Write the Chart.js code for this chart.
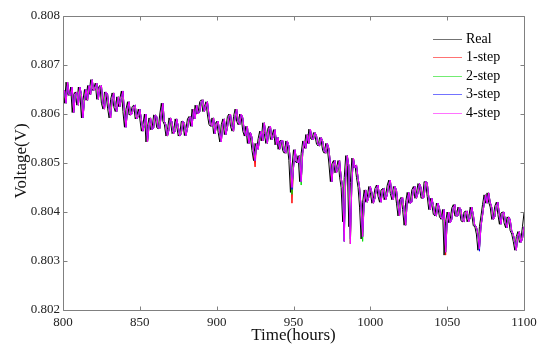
<!DOCTYPE html>
<html>
<head>
<meta charset="utf-8">
<script src="https://cdn.jsdelivr.net/npm/chart.js@4.4.1/dist/chart.umd.min.js"></script>
<style>
  html, body { margin: 0; padding: 0; background: #ffffff; }
  #wrap { width: 550px; height: 353px; }
</style>
</head>
<body>
<div id="wrap"><canvas id="c" width="550" height="353"></canvas></div>
<script>
// hourly samples from 800 h to 1100 h
const startHour = 800;
const stepHours = 1;

const seriesNames = ['Real', '1-step', '2-step', '3-step', '4-step'];

const real = [
.80648,.80622,.80665,.80640,.80638,.80655,.80603,.80640,.80645,.80618,
.80655,.80640,.80592,.80628,.80650,.80628,.80658,.80640,.80670,.80648,
.80652,.80663,.80630,.80655,.80658,.80622,.80610,.80645,.80640,.80612,
.80592,.80630,.80643,.80615,.80605,.80635,.80615,.80632,.80647,.80605,
.80573,.80610,.80625,.80598,.80600,.80615,.80618,.80590,.80595,.80610,
.80590,.80565,.80578,.80600,.80543,.80575,.80592,.80568,.80572,.80598,
.80595,.80572,.80570,.80600,.80622,.80585,.80578,.80555,.80568,.80592,
.80583,.80560,.80565,.80590,.80575,.80555,.80560,.80585,.80582,.80556,
.80570,.80590,.80595,.80575,.80610,.80590,.80618,.80600,.80605,.80625,
.80629,.80605,.80615,.80625,.80598,.80578,.80575,.80592,.80560,.80580,
.80585,.80562,.80543,.80578,.80590,.80558,.80572,.80595,.80600,.80575,
.80565,.80595,.80610,.80585,.80578,.80600,.80592,.80565,.80555,.80575,
.80540,.80562,.80552,.80525,.80505,.80540,.80528,.80550,.80565,.80545,
.80582,.80560,.80540,.80568,.80575,.80548,.80555,.80568,.80537,.80552,
.80528,.80545,.80546,.80525,.80520,.80545,.80535,.80505,.80440,.80490,
.80527,.80505,.80500,.80515,.80462,.80520,.80545,.80530,.80558,.80540,
.80569,.80550,.80548,.80562,.80555,.80538,.80535,.80552,.80545,.80525,
.80520,.80540,.80530,.80500,.80462,.80498,.80505,.80480,.80490,.80505,
.80471,.80450,.80380,.80470,.80515,.80495,.80370,.80460,.80510,.80490,
.80496,.80470,.80450,.80410,.80345,.80420,.80445,.80420,.80430,.80452,
.80440,.80418,.80428,.80448,.80455,.80432,.80420,.80445,.80448,.80425,
.80435,.80455,.80465,.80438,.80425,.80452,.80445,.80418,.80392,.80425,
.80430,.80405,.80373,.80420,.80440,.80418,.80420,.80445,.80452,.80428,
.80438,.80458,.80450,.80428,.80430,.80462,.80460,.80432,.80405,.80428,
.80415,.80395,.80392,.80418,.80408,.80390,.80385,.80405,.80312,.80380,
.80400,.80378,.80385,.80408,.80415,.80392,.80392,.80410,.80405,.80382,
.80380,.80400,.80402,.80380,.80388,.80410,.80395,.80372,.80370,.80355,
.80322,.80370,.80392,.80415,.80435,.80418,.80439,.80420,.80410,.80385,
.80390,.80412,.80420,.80395,.80375,.80398,.80400,.80378,.80368,.80390,
.80385,.80362,.80355,.80340,.80322,.80350,.80360,.80338,.80345,.80370,
.80398
];

const step1 = [
.80640,.80648,.80622,.80665,.80640,.80638,.80655,.80603,.80640,.80645,
.80618,.80655,.80640,.80592,.80628,.80650,.80628,.80658,.80640,.80670,
.80648,.80652,.80663,.80630,.80655,.80658,.80622,.80610,.80645,.80640,
.80612,.80592,.80630,.80643,.80615,.80605,.80635,.80615,.80632,.80647,
.80605,.80573,.80610,.80625,.80598,.80600,.80615,.80618,.80590,.80595,
.80610,.80590,.80565,.80578,.80600,.80543,.80575,.80592,.80568,.80572,
.80598,.80595,.80572,.80570,.80600,.80622,.80585,.80578,.80555,.80568,
.80592,.80583,.80560,.80565,.80590,.80575,.80555,.80560,.80585,.80582,
.80556,.80570,.80590,.80595,.80575,.80610,.80590,.80618,.80600,.80605,
.80625,.80629,.80605,.80615,.80625,.80598,.80578,.80575,.80592,.80560,
.80580,.80585,.80562,.80543,.80578,.80590,.80558,.80572,.80595,.80600,
.80575,.80565,.80595,.80610,.80585,.80578,.80600,.80592,.80565,.80555,
.80575,.80540,.80562,.80552,.80525,.80492,.80540,.80528,.80550,.80565,
.80545,.80582,.80560,.80540,.80568,.80575,.80548,.80555,.80568,.80537,
.80552,.80528,.80545,.80546,.80525,.80520,.80545,.80535,.80505,.80418,
.80490,.80527,.80505,.80500,.80515,.80462,.80520,.80545,.80530,.80558,
.80540,.80569,.80550,.80548,.80562,.80555,.80538,.80535,.80552,.80545,
.80525,.80520,.80540,.80530,.80500,.80462,.80498,.80505,.80480,.80490,
.80505,.80471,.80450,.80360,.80470,.80515,.80495,.80335,.80460,.80510,
.80490,.80496,.80470,.80450,.80410,.80350,.80420,.80445,.80420,.80430,
.80452,.80440,.80418,.80428,.80448,.80455,.80432,.80420,.80445,.80448,
.80425,.80435,.80455,.80465,.80438,.80425,.80452,.80445,.80418,.80392,
.80425,.80430,.80405,.80373,.80420,.80440,.80418,.80420,.80445,.80452,
.80428,.80438,.80458,.80450,.80428,.80430,.80462,.80460,.80432,.80405,
.80428,.80415,.80395,.80392,.80418,.80408,.80390,.80385,.80405,.80312,
.80380,.80400,.80378,.80385,.80408,.80415,.80392,.80392,.80410,.80405,
.80382,.80380,.80400,.80402,.80380,.80388,.80410,.80395,.80372,.80370,
.80355,.80325,.80370,.80392,.80415,.80435,.80418,.80439,.80420,.80410,
.80385,.80390,.80412,.80420,.80395,.80375,.80398,.80400,.80378,.80368,
.80390,.80385,.80362,.80355,.80340,.80322,.80350,.80360,.80338,.80345,
.80370
];

const step2 = [
.80640,.80648,.80622,.80665,.80640,.80638,.80655,.80603,.80640,.80645,
.80618,.80655,.80640,.80592,.80628,.80650,.80628,.80658,.80640,.80670,
.80648,.80652,.80663,.80630,.80655,.80658,.80622,.80610,.80645,.80640,
.80612,.80592,.80630,.80643,.80615,.80605,.80635,.80615,.80632,.80647,
.80605,.80573,.80610,.80625,.80598,.80600,.80615,.80618,.80590,.80595,
.80610,.80590,.80565,.80578,.80600,.80543,.80575,.80592,.80568,.80572,
.80598,.80595,.80572,.80570,.80600,.80622,.80585,.80578,.80555,.80568,
.80592,.80583,.80560,.80565,.80590,.80575,.80555,.80560,.80585,.80582,
.80556,.80570,.80590,.80595,.80575,.80610,.80590,.80618,.80600,.80605,
.80625,.80629,.80605,.80615,.80625,.80598,.80578,.80575,.80592,.80560,
.80580,.80585,.80562,.80543,.80578,.80590,.80558,.80572,.80595,.80600,
.80575,.80565,.80595,.80610,.80585,.80578,.80600,.80592,.80565,.80555,
.80575,.80540,.80562,.80552,.80525,.80505,.80540,.80528,.80550,.80565,
.80545,.80582,.80560,.80540,.80568,.80575,.80548,.80555,.80568,.80537,
.80552,.80528,.80545,.80546,.80525,.80520,.80545,.80535,.80505,.80436,
.80490,.80527,.80505,.80500,.80515,.80455,.80520,.80545,.80530,.80558,
.80540,.80569,.80550,.80548,.80562,.80555,.80538,.80535,.80552,.80545,
.80525,.80520,.80540,.80530,.80500,.80462,.80498,.80505,.80480,.80490,
.80505,.80471,.80450,.80340,.80470,.80515,.80495,.80335,.80460,.80510,
.80490,.80496,.80470,.80450,.80410,.80340,.80420,.80445,.80420,.80430,
.80452,.80440,.80418,.80428,.80448,.80455,.80432,.80420,.80445,.80448,
.80425,.80435,.80455,.80465,.80438,.80425,.80452,.80445,.80418,.80392,
.80425,.80430,.80405,.80373,.80420,.80440,.80418,.80420,.80445,.80452,
.80428,.80438,.80458,.80450,.80428,.80430,.80462,.80460,.80432,.80405,
.80428,.80415,.80395,.80392,.80418,.80408,.80390,.80385,.80405,.80318,
.80380,.80400,.80378,.80385,.80408,.80415,.80392,.80392,.80410,.80405,
.80382,.80380,.80400,.80402,.80380,.80388,.80410,.80395,.80372,.80370,
.80355,.80325,.80370,.80392,.80415,.80435,.80418,.80439,.80420,.80410,
.80385,.80390,.80412,.80420,.80395,.80375,.80398,.80400,.80378,.80368,
.80390,.80385,.80362,.80355,.80340,.80322,.80350,.80360,.80338,.80345,
.80370
];

const step3 = [
.80640,.80648,.80622,.80665,.80640,.80638,.80655,.80603,.80640,.80645,
.80618,.80655,.80640,.80592,.80628,.80650,.80628,.80658,.80640,.80670,
.80648,.80652,.80663,.80630,.80655,.80658,.80622,.80610,.80645,.80640,
.80612,.80592,.80630,.80643,.80615,.80605,.80635,.80615,.80632,.80647,
.80605,.80573,.80610,.80625,.80598,.80600,.80615,.80618,.80590,.80595,
.80610,.80590,.80565,.80578,.80600,.80543,.80575,.80592,.80568,.80572,
.80598,.80595,.80572,.80570,.80600,.80622,.80585,.80578,.80555,.80568,
.80592,.80583,.80560,.80565,.80590,.80575,.80555,.80560,.80585,.80582,
.80556,.80570,.80590,.80595,.80575,.80610,.80590,.80618,.80600,.80605,
.80625,.80629,.80605,.80615,.80625,.80598,.80578,.80575,.80592,.80560,
.80580,.80585,.80562,.80543,.80578,.80590,.80558,.80572,.80595,.80600,
.80575,.80565,.80595,.80610,.80585,.80578,.80600,.80592,.80565,.80555,
.80575,.80540,.80562,.80552,.80525,.80505,.80540,.80528,.80550,.80565,
.80545,.80582,.80560,.80540,.80568,.80575,.80548,.80555,.80568,.80537,
.80552,.80528,.80545,.80546,.80525,.80520,.80545,.80535,.80505,.80446,
.80490,.80527,.80505,.80500,.80515,.80462,.80520,.80545,.80530,.80558,
.80540,.80569,.80550,.80548,.80562,.80555,.80538,.80535,.80552,.80545,
.80525,.80520,.80540,.80530,.80500,.80462,.80498,.80505,.80480,.80490,
.80505,.80471,.80450,.80340,.80470,.80515,.80495,.80345,.80460,.80510,
.80490,.80496,.80470,.80450,.80410,.80350,.80420,.80445,.80420,.80430,
.80452,.80440,.80418,.80428,.80448,.80455,.80432,.80420,.80445,.80448,
.80425,.80435,.80455,.80465,.80438,.80425,.80452,.80445,.80418,.80392,
.80425,.80430,.80405,.80373,.80420,.80440,.80418,.80420,.80445,.80452,
.80428,.80438,.80458,.80450,.80428,.80430,.80462,.80460,.80432,.80405,
.80428,.80415,.80395,.80392,.80418,.80408,.80390,.80385,.80405,.80318,
.80380,.80400,.80378,.80385,.80408,.80415,.80392,.80392,.80410,.80405,
.80382,.80380,.80400,.80402,.80380,.80388,.80410,.80395,.80372,.80370,
.80355,.80320,.80370,.80392,.80415,.80435,.80418,.80439,.80420,.80410,
.80385,.80390,.80412,.80420,.80395,.80375,.80398,.80400,.80378,.80368,
.80390,.80385,.80362,.80355,.80340,.80322,.80350,.80360,.80338,.80345,
.80370
];

const step4 = [
.80640,.80648,.80622,.80665,.80640,.80638,.80655,.80603,.80640,.80645,
.80618,.80655,.80640,.80592,.80628,.80650,.80628,.80658,.80640,.80670,
.80648,.80652,.80663,.80630,.80655,.80658,.80622,.80610,.80645,.80640,
.80612,.80592,.80630,.80643,.80615,.80605,.80635,.80615,.80632,.80647,
.80605,.80573,.80610,.80625,.80598,.80600,.80615,.80618,.80590,.80595,
.80610,.80590,.80565,.80578,.80600,.80543,.80575,.80592,.80568,.80572,
.80598,.80595,.80572,.80570,.80600,.80622,.80585,.80578,.80555,.80568,
.80592,.80583,.80560,.80565,.80590,.80575,.80555,.80560,.80585,.80582,
.80556,.80570,.80590,.80595,.80575,.80610,.80590,.80618,.80600,.80605,
.80625,.80629,.80605,.80615,.80625,.80598,.80578,.80575,.80592,.80560,
.80580,.80585,.80562,.80543,.80578,.80590,.80558,.80572,.80595,.80600,
.80575,.80565,.80595,.80610,.80585,.80578,.80600,.80592,.80565,.80555,
.80575,.80540,.80562,.80552,.80525,.80505,.80540,.80528,.80550,.80565,
.80545,.80582,.80560,.80540,.80568,.80575,.80548,.80555,.80568,.80537,
.80552,.80528,.80545,.80546,.80525,.80520,.80545,.80535,.80505,.80450,
.80490,.80527,.80505,.80500,.80515,.80462,.80520,.80545,.80530,.80558,
.80540,.80569,.80550,.80548,.80562,.80555,.80538,.80535,.80552,.80545,
.80525,.80520,.80540,.80530,.80500,.80462,.80498,.80505,.80480,.80490,
.80505,.80471,.80450,.80340,.80470,.80515,.80495,.80335,.80460,.80510,
.80490,.80496,.80470,.80450,.80410,.80350,.80420,.80445,.80420,.80430,
.80452,.80440,.80418,.80428,.80448,.80455,.80432,.80420,.80445,.80448,
.80425,.80435,.80455,.80465,.80438,.80425,.80452,.80445,.80418,.80392,
.80425,.80430,.80405,.80373,.80420,.80440,.80418,.80420,.80445,.80452,
.80428,.80438,.80458,.80450,.80428,.80430,.80462,.80460,.80432,.80405,
.80428,.80415,.80395,.80392,.80418,.80408,.80390,.80385,.80405,.80318,
.80380,.80400,.80378,.80385,.80408,.80415,.80392,.80392,.80410,.80405,
.80382,.80380,.80400,.80402,.80380,.80388,.80410,.80395,.80372,.80370,
.80355,.80325,.80370,.80392,.80415,.80435,.80418,.80439,.80420,.80410,
.80385,.80390,.80412,.80420,.80395,.80375,.80398,.80400,.80378,.80368,
.80390,.80385,.80362,.80355,.80340,.80322,.80350,.80360,.80338,.80345,
.80370
];

const xTicks = [800, 850, 900, 950, 1000, 1050, 1100];
const yTicks = [0.802, 0.803, 0.804, 0.805, 0.806, 0.807, 0.808];
const xTitle = 'Time(hours)';
const yTitle = 'Voltage(V)';

const colors = ['#000000', '#ff0000', '#00dd00', '#0000ff', '#ff00ff'];
const allSeries = [real, step1, step2, step3, step4];

const FONT = "'Liberation Serif', 'Times New Roman', serif";
const AXIS = '#808080';

function toPoints(arr) { return arr.map((v, i) => ({ x: startHour + i * stepHours, y: v })); }

const datasets = allSeries.map((arr, i) => ({
  label: seriesNames[i],
  data: toPoints(arr),
  borderColor: colors[i],
  backgroundColor: colors[i],
  borderWidth: 1,
  pointRadius: 0,
  tension: 0,
  fill: false,
  order: allSeries.length - 1 - i
}));

const framePlugin = {
  id: 'frame',
  afterDraw(chart) {
    const ctx = chart.ctx;
    const a = chart.chartArea;
    const xs = chart.scales.x, ys = chart.scales.y;
    ctx.save();
    ctx.strokeStyle = AXIS;
    ctx.lineWidth = 1;
    ctx.beginPath();
    const L = Math.round(a.left) + 0.5, R = Math.round(a.right) + 0.5;
    const T = Math.round(a.top) + 0.5, B = Math.round(a.bottom) + 0.5;
    ctx.rect(L, T, R - L, B - T);
    const tl = 4;
    xTicks.forEach(v => {
      const px = Math.round(xs.getPixelForValue(v)) + 0.5;
      ctx.moveTo(px, B); ctx.lineTo(px, B - tl);
      ctx.moveTo(px, T); ctx.lineTo(px, T + tl);
    });
    yTicks.forEach(v => {
      const py = Math.round(ys.getPixelForValue(v)) + 0.5;
      ctx.moveTo(L, py); ctx.lineTo(L + tl, py);
      ctx.moveTo(R, py); ctx.lineTo(R - tl, py);
    });
    ctx.stroke();

    ctx.fillStyle = '#111';
    ctx.font = '17px ' + FONT;
    ctx.textAlign = 'center';
    ctx.textBaseline = 'alphabetic';
    ctx.fillText(xTitle, (a.left + a.right) / 2, 340);
    ctx.save();
    ctx.translate(26, (a.top + a.bottom) / 2 - 2);
    ctx.rotate(-Math.PI / 2);
    ctx.fillText(yTitle, 0, 0);
    ctx.restore();

    ctx.font = '14px ' + FONT;
    ctx.textAlign = 'left';
    ctx.textBaseline = 'middle';
    const lx0 = a.right - 91, lx1 = a.right - 62, tx = a.right - 58;
    chart.data.datasets.forEach((ds, i) => {
      const y = Math.round(a.top + 23 + i * 18.4) + 0.5;
      ctx.strokeStyle = ds.borderColor;
      ctx.globalAlpha = 0.55;
      ctx.beginPath();
      ctx.moveTo(lx0, y); ctx.lineTo(lx1, y);
      ctx.stroke();
      ctx.globalAlpha = 1;
      ctx.fillStyle = '#000';
      ctx.fillText(ds.label, tx, y);
    });
    ctx.restore();
  }
};

new Chart(document.getElementById('c'), {
  type: 'line',
  data: { datasets },
  options: {
    responsive: false,
    animation: false,
    events: [],
    layout: { padding: { top: 16, right: 26, left: 0, bottom: 0 } },
    plugins: { legend: { display: false }, tooltip: { enabled: false } },
    scales: {
      x: {
        type: 'linear', min: 800, max: 1100,
        afterBuildTicks: (s) => { s.ticks = xTicks.map(v => ({ value: v })); },
        afterFit: (s) => { s.height = 43; },
        grid: { display: false, drawTicks: false },
        border: { display: false },
        ticks: { padding: 5, color: '#222', font: { family: FONT, size: 13 }, maxRotation: 0, callback: v => String(v) }
      },
      y: {
        type: 'linear', min: 0.802, max: 0.808,
        afterBuildTicks: (s) => { s.ticks = yTicks.map(v => ({ value: v })); },
        afterFit: (s) => { s.width = 63; },
        grid: { display: false, drawTicks: false },
        border: { display: false },
        ticks: { padding: 3, color: '#222', font: { family: FONT, size: 13 }, callback: v => Number(v).toFixed(3) }
      }
    }
  },
  plugins: [framePlugin]
});
</script>
</body>
</html>
